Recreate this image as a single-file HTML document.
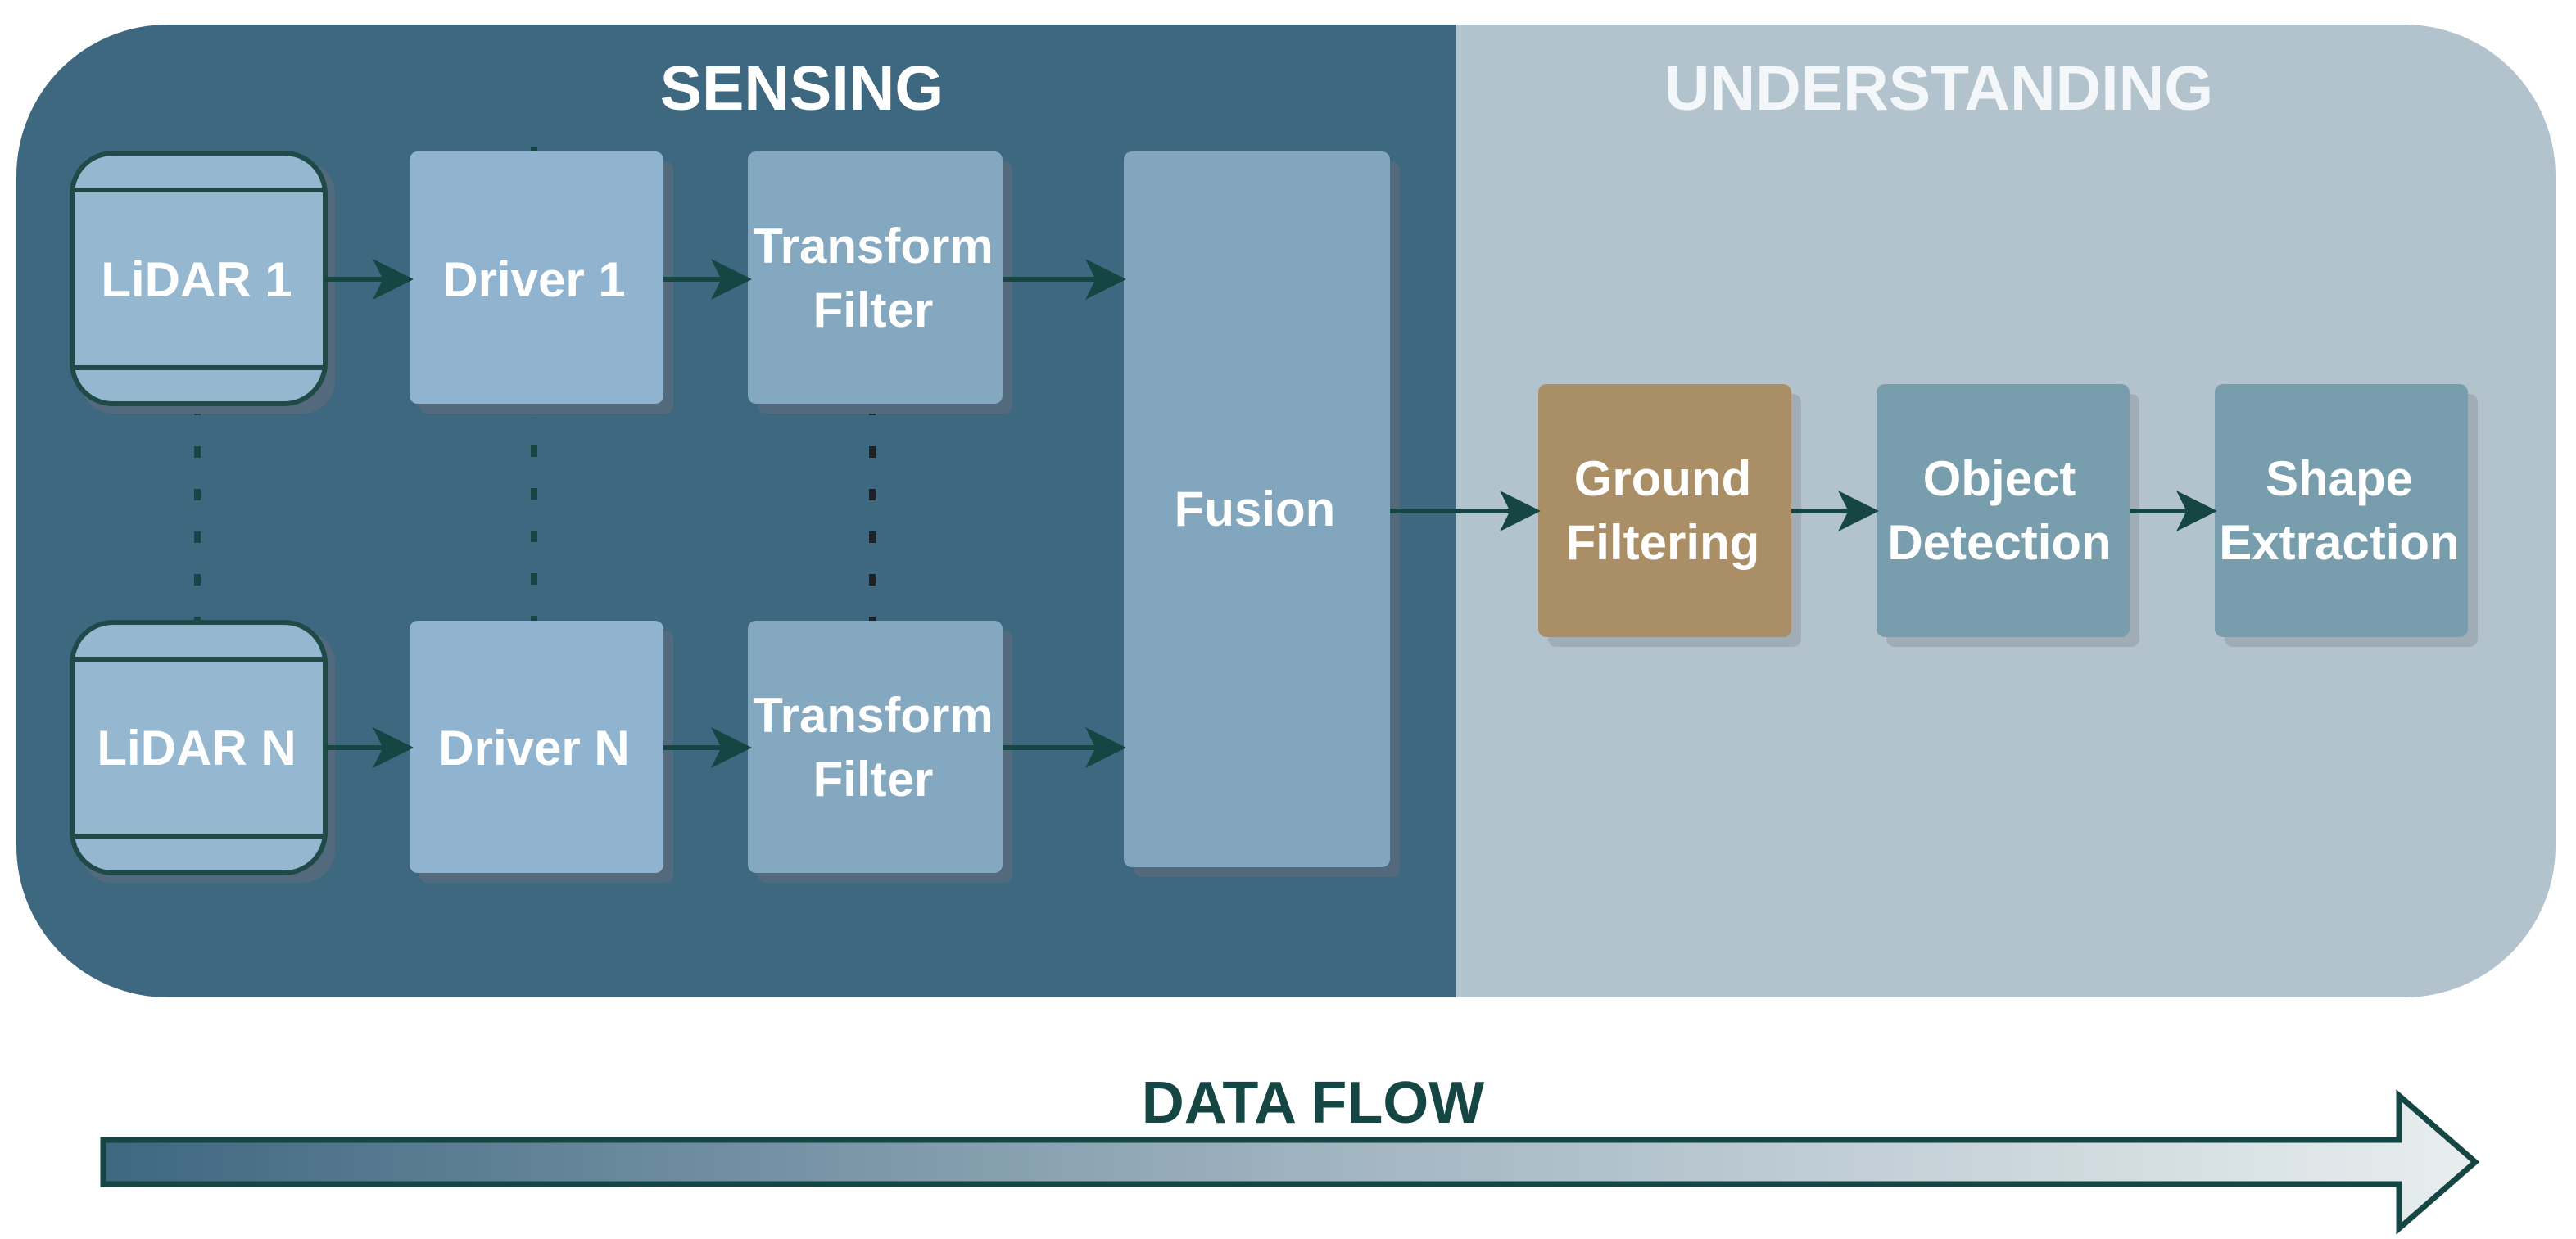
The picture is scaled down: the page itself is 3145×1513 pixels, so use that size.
<!DOCTYPE html>
<html><head><meta charset="utf-8"><style>
html,body{margin:0;padding:0;background:#fff;}
svg{display:block;}
text{font-family:"Liberation Sans",sans-serif;font-weight:bold;}
</style></head><body>
<svg width="3145" height="1513" viewBox="0 0 3145 1513" xmlns="http://www.w3.org/2000/svg">
<defs>
<clipPath id="c"><rect x="20" y="30" width="3100" height="1188" rx="185" ry="185"/></clipPath>
<linearGradient id="g" x1="0" x2="1" y1="0" y2="0">
<stop offset="0" stop-color="#3e6780"/><stop offset="0.5" stop-color="#9eb2bf"/><stop offset="1" stop-color="#e8eeef"/>
</linearGradient>
<marker id="a" viewBox="0 0 20 20" refX="18" refY="10" markerWidth="50" markerHeight="50" markerUnits="userSpaceOnUse" orient="auto">
<path d="M0,0 L20,10 L0,20 L5,10 Z" fill="#154643"/></marker>
</defs>
<g clip-path="url(#c)">
<rect x="20" y="30" width="1757" height="1188" fill="#3e6880"/>
<rect x="1777" y="30" width="1343" height="1188" fill="#b2c3cd"/>
</g>
<text x="979" y="134" font-size="77" fill="#fff" text-anchor="middle">SENSING</text>
<text x="2367" y="134" font-size="77" fill="#f4f7f9" text-anchor="middle">UNDERSTANDING</text>

<!-- dotted connectors -->
<g stroke-width="8" stroke-dasharray="14 38">
<line x1="241" y1="493" x2="241" y2="758" stroke="#154643"/>
<line x1="652" y1="180" x2="652" y2="758" stroke="#154643"/>
<line x1="1065" y1="493" x2="1065" y2="758" stroke="#1e2226"/>
</g>

<!-- shadows -->
<g fill="#536a7d">
<rect x="98" y="197" width="311" height="308" rx="40"/>
<rect x="98" y="770" width="311" height="308" rx="40"/>
<rect x="512" y="197" width="310" height="308" rx="10"/>
<rect x="512" y="770" width="310" height="308" rx="10"/>
<rect x="925" y="197" width="311" height="308" rx="10"/>
<rect x="925" y="770" width="311" height="308" rx="10"/>
<rect x="1384" y="197" width="325" height="874" rx="10"/>
</g>
<g fill="#a0acb6">
<rect x="1890" y="481" width="309" height="309" rx="10"/>
<rect x="2303" y="481" width="309" height="309" rx="10"/>
<rect x="2716" y="481" width="309" height="309" rx="10"/>
</g>

<!-- LiDARs -->
<g fill="#95b7d0" stroke="#1f4a48" stroke-width="6">
<rect x="88" y="187" width="309" height="306" rx="50"/>
<line x1="88" y1="232" x2="397" y2="232"/><line x1="88" y1="449" x2="397" y2="449"/>
<rect x="88" y="760" width="309" height="306" rx="50"/>
<line x1="88" y1="805" x2="397" y2="805"/><line x1="88" y1="1021" x2="397" y2="1021"/>
</g>
<rect x="500" y="185" width="310" height="308" rx="10" fill="#90b4cf"/>
<rect x="500" y="758" width="310" height="308" rx="10" fill="#90b4cf"/>
<rect x="913" y="185" width="311" height="308" rx="10" fill="#84a8bf"/>
<rect x="913" y="758" width="311" height="308" rx="10" fill="#84a8bf"/>
<rect x="1372" y="185" width="325" height="874" rx="10" fill="#82a6bd"/>
<rect x="1878" y="469" width="309" height="309" rx="10" fill="#aa8e66"/>
<rect x="2291" y="469" width="309" height="309" rx="10" fill="#789eae"/>
<rect x="2704" y="469" width="309" height="309" rx="10" fill="#789eae"/>

<!-- arrows -->
<g stroke="#154643" stroke-width="6" marker-end="url(#a)">
<line x1="397" y1="341" x2="500" y2="341"/>
<line x1="810" y1="341" x2="913" y2="341"/>
<line x1="1224" y1="341" x2="1370" y2="341"/>
<line x1="397" y1="913" x2="500" y2="913"/>
<line x1="810" y1="913" x2="913" y2="913"/>
<line x1="1224" y1="913" x2="1370" y2="913"/>
<line x1="1697" y1="624" x2="1876" y2="624"/>
<line x1="2187" y1="624" x2="2289" y2="624"/>
<line x1="2600" y1="624" x2="2702" y2="624"/>
</g>

<g font-size="60" fill="#fff" text-anchor="middle">
<text x="240" y="362">LiDAR 1</text>
<text x="240" y="934">LiDAR N</text>
<text x="652" y="362">Driver 1</text>
<text x="652" y="934">Driver N</text>
<text x="1066" y="321">Transform</text><text x="1066" y="399">Filter</text>
<text x="1066" y="894">Transform</text><text x="1066" y="972">Filter</text>
<text x="1532" y="642">Fusion</text>
<text x="2030" y="605">Ground</text><text x="2030" y="683">Filtering</text>
<text x="2441" y="605">Object</text><text x="2441" y="683">Detection</text>
<text x="2856" y="605">Shape</text><text x="2856" y="683">Extraction</text>
</g>

<path d="M126,1392 L2929,1392 L2929,1338 L3022,1419 L2929,1500 L2929,1446 L126,1446 Z" fill="url(#g)" stroke="#154643" stroke-width="7"/>
<text x="1603" y="1371" font-size="72" fill="#154643" text-anchor="middle">DATA FLOW</text>
</svg>
</body></html>
